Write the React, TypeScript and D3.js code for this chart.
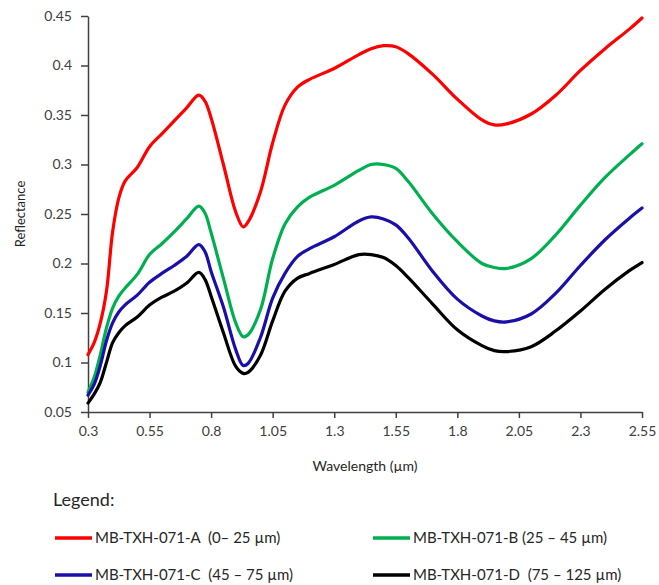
import React, { useRef, useEffect } from 'react';
import * as d3 from 'd3';

// wavelength grid (µm)
const wavelengths = [0.30, 0.325, 0.35, 0.375, 0.40, 0.425, 0.45, 0.50, 0.55, 0.60, 0.65, 0.70, 0.75, 0.775, 0.80, 0.85, 0.90, 0.93, 0.95, 1.00, 1.05, 1.10, 1.15, 1.20, 1.30, 1.40, 1.45, 1.50, 1.55, 1.60, 1.70, 1.80, 1.90, 1.95, 2.00, 2.10, 2.20, 2.30, 2.40, 2.50, 2.55];

const reflA = [0.108, 0.12, 0.14, 0.172, 0.232, 0.266, 0.283, 0.297, 0.318, 0.331, 0.344, 0.357, 0.370, 0.364, 0.347, 0.300, 0.252, 0.237, 0.242, 0.272, 0.322, 0.360, 0.378, 0.386, 0.397, 0.411, 0.417, 0.420, 0.419, 0.412, 0.391, 0.366, 0.345, 0.340, 0.341, 0.351, 0.370, 0.395, 0.417, 0.437, 0.448];
const reflB = [0.070, 0.085, 0.108, 0.135, 0.155, 0.167, 0.175, 0.189, 0.209, 0.220, 0.232, 0.245, 0.258, 0.251, 0.231, 0.185, 0.140, 0.126, 0.128, 0.153, 0.205, 0.240, 0.257, 0.267, 0.279, 0.294, 0.300, 0.300, 0.296, 0.283, 0.250, 0.222, 0.200, 0.196, 0.195, 0.205, 0.229, 0.259, 0.287, 0.310, 0.321];
const reflC = [0.067, 0.078, 0.097, 0.122, 0.140, 0.151, 0.158, 0.168, 0.181, 0.190, 0.198, 0.207, 0.219, 0.212, 0.192, 0.156, 0.113, 0.097, 0.099, 0.125, 0.165, 0.190, 0.207, 0.215, 0.227, 0.243, 0.247, 0.245, 0.239, 0.226, 0.192, 0.164, 0.147, 0.142, 0.141, 0.149, 0.170, 0.198, 0.224, 0.246, 0.256];
const reflD = [0.059, 0.068, 0.080, 0.100, 0.120, 0.130, 0.137, 0.146, 0.158, 0.166, 0.172, 0.180, 0.191, 0.184, 0.167, 0.130, 0.096, 0.089, 0.090, 0.107, 0.142, 0.172, 0.185, 0.190, 0.199, 0.209, 0.209, 0.206, 0.198, 0.186, 0.159, 0.133, 0.117, 0.112, 0.111, 0.116, 0.132, 0.152, 0.174, 0.193, 0.201];

const seriesNames = ['MB-TXH-071-A  (0– 25 µm)', 'MB-TXH-071-B (25 – 45 µm)', 'MB-TXH-071-C  (45 – 75 µm)', 'MB-TXH-071-D  (75 – 125 µm)'];
const seriesColors = ['#ff0000', '#00b050', '#1a10a8', '#000000'];

const xTicks = [0.3, 0.55, 0.8, 1.05, 1.3, 1.55, 1.8, 2.05, 2.3, 2.55];
const yTicks = [0.05, 0.1, 0.15, 0.2, 0.25, 0.3, 0.35, 0.4, 0.45];

const width = 659;
const height = 585;
const font = 'Lato, "Open Sans", sans-serif';

const App = () => {
    const svgRef = useRef(null);

    useEffect(() => {
        const svg = d3.select(svgRef.current);
        svg.selectAll('*').remove();

        const x = d3.scaleLinear().domain([0.3, 2.55]).range([88, 642]);
        const y = d3.scaleLinear().domain([0.05, 0.45]).range([412, 16]);

        // axes
        const xAxis = svg.append('g')
            .attr('transform', `translate(0, ${y(0.05)})`)
            .call(d3.axisBottom(x).tickValues(xTicks).tickSize(6).tickSizeOuter(0).tickPadding(8).tickFormat(d => String(d)));
        const yAxis = svg.append('g')
            .attr('transform', `translate(${x(0.3)}, 0)`)
            .call(d3.axisLeft(y).tickValues(yTicks).tickSize(7).tickSizeOuter(0).tickPadding(9).tickFormat(d => String(d)));

        [xAxis, yAxis].forEach(ax => {
            ax.select('.domain').attr('stroke', '#404040').attr('stroke-width', 1.5);
            ax.selectAll('.tick line').attr('stroke', '#404040').attr('stroke-width', 1.5);
            ax.selectAll('.tick text')
                .attr('fill', '#404040')
                .style('font-family', font)
                .style('font-size', '14px');
        });

        // lines
        const allSeries = [reflA, reflB, reflC, reflD];
        const line = d3.line()
            .x((d, i) => x(wavelengths[i]))
            .y(d => y(d))
            .curve(d3.curveCatmullRom.alpha(0.5));

        allSeries.forEach((vals, k) => {
            svg.append('path')
                .datum(vals)
                .attr('d', line)
                .attr('fill', 'none')
                .attr('stroke', seriesColors[k])
                .attr('stroke-width', 3.2)
                .attr('stroke-linejoin', 'round')
                .attr('stroke-linecap', 'round');
        });

        // axis titles
        svg.append('text')
            .attr('transform', `translate(20, ${(y(0.05) + y(0.45)) / 2}) rotate(-90)`)
            .attr('text-anchor', 'middle')
            .attr('dy', '0.35em')
            .style('font-family', font)
            .style('font-size', '13px')
            .attr('fill', '#262626')
            .text('Reflectance');

        svg.append('text')
            .attr('x', (x(0.3) + x(2.55)) / 2)
            .attr('y', 466)
            .attr('text-anchor', 'middle')
            .attr('dy', '0.35em')
            .style('font-family', font)
            .style('font-size', '14px')
            .attr('fill', '#262626')
            .text('Wavelength (µm)');

        // legend
        svg.append('text')
            .attr('x', 53)
            .attr('y', 500)
            .attr('dy', '0.35em')
            .style('font-family', font)
            .style('font-size', '18px')
            .attr('fill', '#262626')
            .text('Legend:');

        const legendPos = [[55, 538], [373, 538], [55, 575], [373, 575]];
        seriesNames.forEach((name, k) => {
            const [lx, ly] = legendPos[k];
            svg.append('line')
                .attr('x1', lx).attr('x2', lx + 37)
                .attr('y1', ly).attr('y2', ly)
                .attr('stroke', seriesColors[k])
                .attr('stroke-width', 3.5);
            svg.append('text')
                .attr('x', lx + 40)
                .attr('y', ly)
                .attr('dy', '0.35em')
                .style('font-family', font)
                .style('font-size', '15px')
                .style('white-space', 'pre')
                .attr('fill', '#262626')
                .text(name);
        });
    }, []);

    return (
        <svg ref={svgRef} width={width} height={height}
            style={{ position: 'absolute', left: 0, top: 0, background: '#fff' }} />
    );
};

export default App;
